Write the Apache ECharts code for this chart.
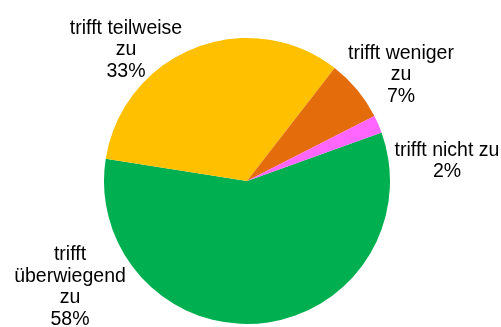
<!DOCTYPE html>
<html>
<head>
<meta charset="utf-8">
<script src="https://cdn.jsdelivr.net/npm/echarts@6/dist/echarts.min.js"></script>
<style>
  html, body { margin: 0; padding: 0; background: #fff; }
  #chart { width: 501px; height: 327px; }
</style>
</head>
<body>
<div id="chart"></div>
<script>
// Antworten (Anteile in Prozent), im Uhrzeigersinn
const categories = ['trifft\nüberwiegend\nzu', 'trifft teilweise\nzu', 'trifft weniger\nzu', 'trifft nicht zu'];
const shares = [58, 33, 7, 2];
const colors = ['#00B050', '#FFC000', '#E46C0A', '#FF66FF'];

// Lage der Beschriftungen (Mittelpunkt des Textblocks)
const labelSpots = [[70, 287], [126, 50], [401, 75], [447, 161]];

const chart = echarts.init(document.getElementById('chart'), null, { renderer: 'canvas' });

chart.setOption({
  animation: false,
  series: [{
    type: 'pie',
    center: [247, 181],
    radius: [0, 143],
    startAngle: 19.8,
    clockwise: true,
    avoidLabelOverlap: false,
    data: categories.map((name, i) => ({
      name: name,
      value: shares[i],
      itemStyle: { color: colors[i] }
    })),
    itemStyle: { borderWidth: 0 },
    emphasis: { disabled: true },
    label: {
      show: true,
      position: 'outside',
      formatter: p => p.name + '\n' + p.value + '%',
      fontFamily: '"Liberation Sans", Arial, sans-serif',
      fontSize: 19.5,
      lineHeight: 21.5,
      color: '#000',
      align: 'center'
    },
    labelLine: { show: false },
    labelLayout: p => ({
      x: labelSpots[p.dataIndex][0],
      y: labelSpots[p.dataIndex][1],
      align: 'center',
      verticalAlign: 'middle'
    })
  }]
});
</script>
</body>
</html>
